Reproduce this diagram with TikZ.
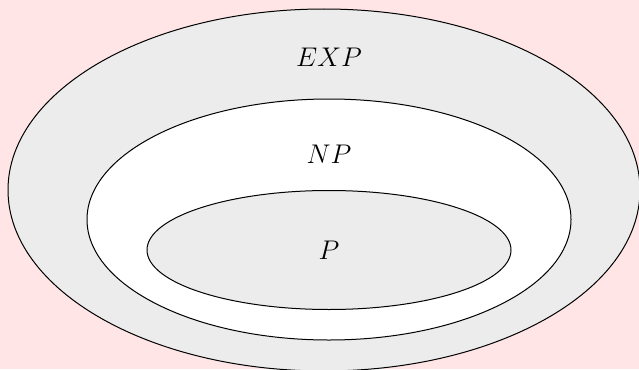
\documentclass[tikz,border=0pt]{standalone}
\usepackage{fix-cm}
\definecolor{bgpink}{RGB}{255,229,229}
\definecolor{setgray}{RGB}{236,236,236}
\tikzset{
  setline/.style={draw=black, line width=1pt},
  setlabel/.style={font=\fontsize{27}{32}\selectfont, inner sep=0pt}
}
\begin{document}
\begin{tikzpicture}[x=1pt,y=-1pt]
  \useasboundingbox (0,0) rectangle (639,369);
  \fill[bgpink] (0,0) rectangle (639,369);
  \clip (0,0) rectangle (639,369);
  \filldraw[setline, fill=setgray] (324,190) ellipse [x radius=316, y radius=181];
  \filldraw[setline, fill=white] (329,219.5) ellipse [x radius=242, y radius=120.5];
  \filldraw[setline, fill=setgray] (329,250) ellipse [x radius=182, y radius=59.5];
  \node[setlabel] (exp) at (329,57) {$EXP$};
  \node[setlabel] (np) at (329,154.5) {$NP$};
  \node[setlabel] (p) at (329,250.5) {$P$};
\end{tikzpicture}
\end{document}
